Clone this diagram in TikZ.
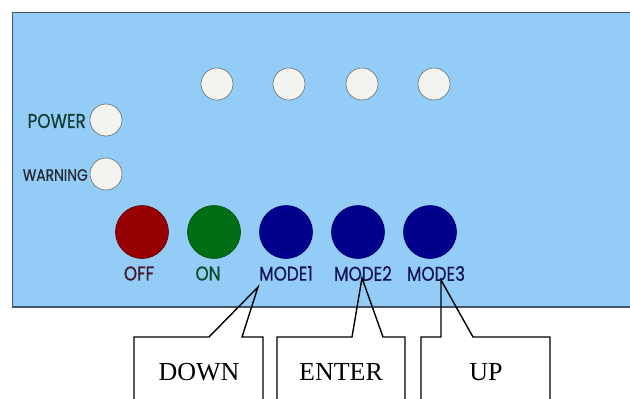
\documentclass[tikz,border=0pt]{standalone}
\usepackage{fontspec}
\setmainfont{Liberation Serif}
\newfontfamily\panelfont[FakeStretch=0.84,FakeBold=0.6]{Poppins}
\definecolor{panelblue}{RGB}{147,204,246}
\definecolor{panelborder}{RGB}{70,85,100}
\definecolor{ledfill}{RGB}{243,243,240}
\definecolor{leddraw}{RGB}{110,110,110}
\definecolor{offred}{RGB}{150,0,0}
\definecolor{ongreen}{RGB}{0,110,20}
\definecolor{modeblue}{RGB}{0,0,140}
\definecolor{powertxt}{RGB}{20,60,50}
\definecolor{warntxt}{RGB}{40,40,50}
\definecolor{offtxt}{RGB}{70,20,40}
\definecolor{ontxt}{RGB}{10,75,40}
\definecolor{modetxt}{RGB}{20,20,90}
\tikzset{
  led/.style={circle, minimum size=32pt, inner sep=0pt, fill=ledfill, draw=leddraw, line width=0.6pt},
  bigbtn/.style={circle, minimum size=53pt, inner sep=0pt, draw=#1!70!black, fill=#1, line width=0.6pt},
  plabel/.style={inner sep=0pt, font=\panelfont\fontsize{20}{20}\selectfont},
  slabel/.style={inner sep=0pt, font=\panelfont\fontsize{16.5}{16.5}\selectfont},
  callout/.style={draw=black, line width=1.4pt, line join=miter},
  ctext/.style={inner sep=0pt, font=\fontsize{26}{26}\selectfont}
}
\begin{document}
\begin{tikzpicture}[x=1pt, y=-1pt]
\useasboundingbox (0,0) rectangle (630,399);
\clip (0,0) rectangle (630,399);
\fill[white] (0,0) rectangle (630,399);
% panel
\draw[fill=panelblue, draw=panelborder, line width=1.2pt] (12.5,12.5) rectangle (640,307);
% top LEDs
\node[led] (l1) at (217,84) {};
\node[led] (l2) at (289,84) {};
\node[led] (l3) at (362,84) {};
\node[led] (l4) at (434,84) {};
% side LEDs
\node[led] (pled) at (106,120) {};
\node[led] (wled) at (106,174) {};
\node[plabel, text=powertxt, anchor=east] (ptxt) at (86,121) {POWER};
\node[slabel, text=warntxt, anchor=east] (wtxt) at (88,175) {WARNING};
% buttons
\node[bigbtn=offred] (off) at (142,232) {};
\node[bigbtn=ongreen] (on) at (214,232) {};
\node[bigbtn=modeblue] (m1) at (286,232) {};
\node[bigbtn=modeblue] (m2) at (358,232) {};
\node[bigbtn=modeblue] (m3) at (430,232) {};
% labels
\node[plabel, text=offtxt] (offl) at (139,273.5) {OFF};
\node[plabel, text=ontxt] (onl) at (208,273.5) {ON};
\node[plabel, text=modetxt] (m1l) at (286,273.5) {MODE1};
\node[plabel, text=modetxt] (m2l) at (363,273.5) {MODE2};
\node[plabel, text=modetxt] (m3l) at (436,273.5) {MODE3};
% callout tips
\coordinate (t1) at (258,287);
\coordinate (t2) at (362,278);
\coordinate (t3) at (441,280);
% callout texts
\node[ctext] (down) at (199,372) {DOWN};
\node[ctext] (enter) at (341,372) {ENTER};
\node[ctext] (up) at (486,372) {UP};
% callout outlines
\draw[callout] (134,420) -- (134,337) -- (209,337) -- (t1) -- (242,337) -- (263,337) -- (263,420);
\draw[callout] (277,420) -- (277,337) -- (352,337) -- (t2) -- (383,337) -- (405,337) -- (405,420);
\draw[callout] (421,420) -- (421,337) -- (441,337) -- (t3) -- (473,337) -- (550,337) -- (550,420);
\end{tikzpicture}
\end{document}
